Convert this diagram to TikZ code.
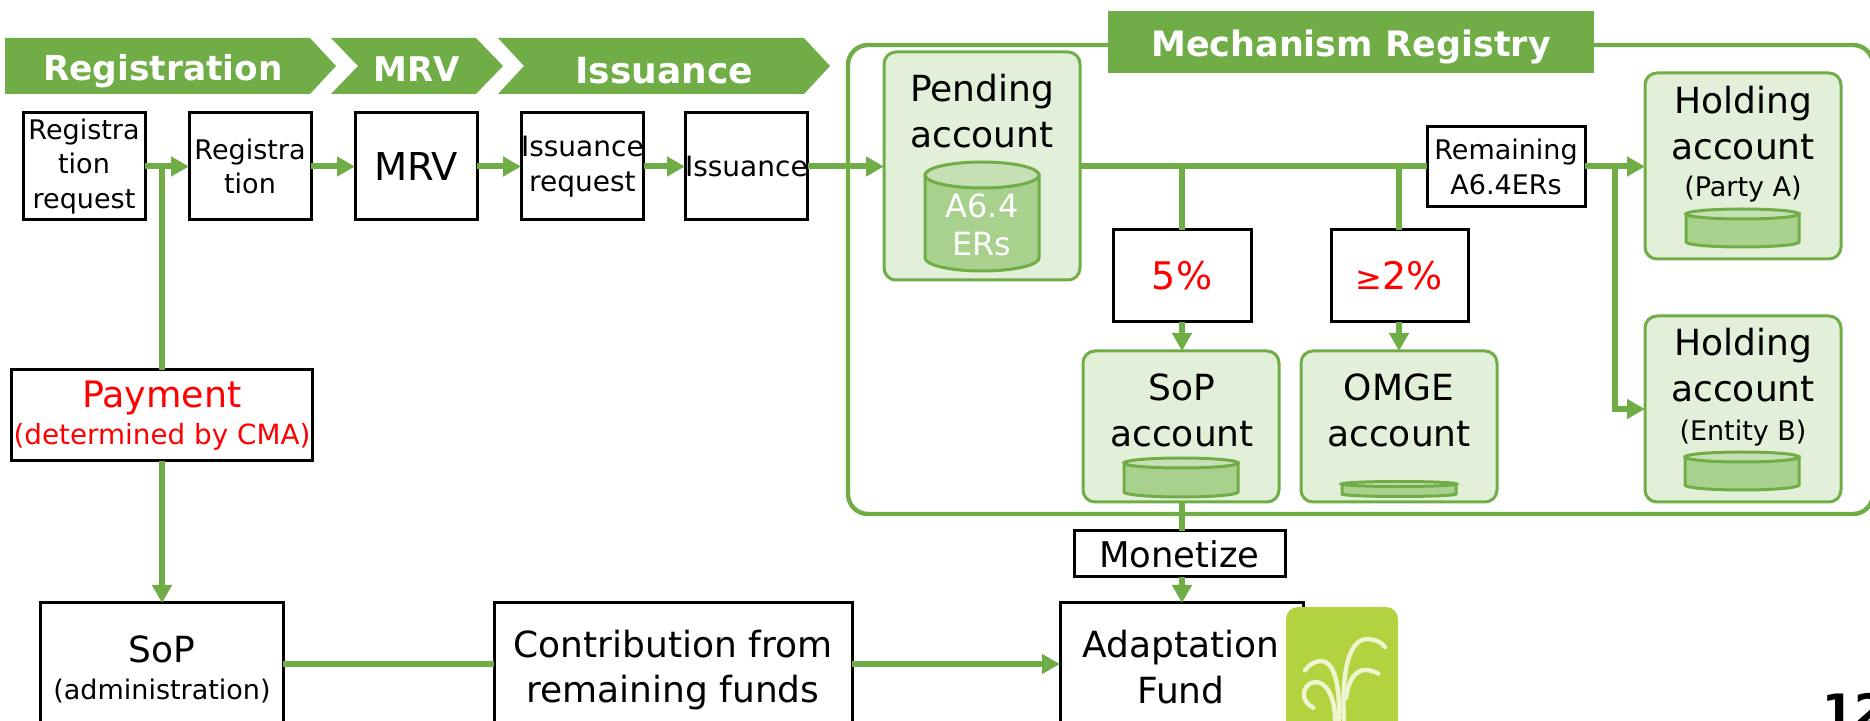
\documentclass[tikz,border=0pt]{standalone}
\usepackage{fontspec}
\setmainfont{DejaVu Sans}
\usetikzlibrary{shapes}
\usetikzlibrary{shapes.geometric}
\usetikzlibrary{arrows.meta}
\usetikzlibrary{positioning}
\definecolor{mgreen}{HTML}{70AD47}
\definecolor{lgreen}{HTML}{E2F0D9}
\definecolor{cgreen}{HTML}{A9D18E}
\definecolor{tgreen}{HTML}{C5E0B4}
\definecolor{logogreen}{HTML}{B3D23F}
\definecolor{logocream}{HTML}{EFF5CF}
\newcommand{\fsz}[1]{\fontsize{#1}{1.27\dimexpr#1pt\relax}\selectfont}
\tikzset{
    every picture/.style={x=0.5pt,y=-0.5pt},
    flow/.style={line width=3pt,draw=mgreen},
    tip/.style={-{Triangle[length=9pt,width=9.5pt]}},
    stepbox/.style={draw=black,line width=1.5pt,fill=white,inner sep=0pt,outer sep=0pt,align=center,anchor=north west},
    acct/.style={draw=mgreen,line width=1.5pt,fill=lgreen,rounded corners=6pt,inner sep=0pt,outer sep=0pt,anchor=north west},
    title/.style={text=white,font=\fsz{#1}\bfseries},
    barrel/.style={draw=mgreen,line width=1.5pt,fill=cgreen},
    spout/.style={draw=logocream,line width=2.2pt,line cap=round},
}
\begin{document}
\begin{tikzpicture}
    \useasboundingbox (0,0) rectangle (1870,721);
    \clip (0,0) rectangle (1870,721);
    % chevrons on top
    \fill[mgreen] (5,38) -- (310,38) -- (336,66) -- (310,94) -- (5,94) -- cycle;
    \fill[mgreen] (331,38) -- (476,38) -- (503,66) -- (476,94) -- (331,94) -- (358,66) -- cycle;
    \fill[mgreen] (498,38) -- (804,38) -- (830,66) -- (804,94) -- (498,94) -- (524,66) -- cycle;
    \node[title=17.2] (regtitle) at (163,71) {Registration};
    \node[title=17] (mrvtitle) at (417,69) {MRV};
    \node[title=18] (isstitle) at (664,71) {Issuance};
    % registry frame
    \draw[draw=mgreen,line width=2.2pt,rounded corners=10pt] (848,45) rectangle (1873,514);
    \fill[mgreen] (1108,11) rectangle (1594,73);
    \node[title=17.5] (registry) at (1351,47) {Mechanism Registry};
    % process boxes
    \node[stepbox,minimum width=61pt,minimum height=53.5pt,font=\fsz{13.5}] (regreq) at (23,113) {Registra\\tion\\request};
    \node[stepbox,minimum width=61pt,minimum height=53.5pt,font=\fsz{13.5}] (reg) at (189,113) {Registra\\tion};
    \node[stepbox,minimum width=61pt,minimum height=53.5pt,font=\fsz{19.2}] (mrv) at (355,113) {MRV};
    \node[stepbox,minimum width=61pt,minimum height=53.5pt,font=\fsz{14}] (issreq) at (521,113) {Issuance\\request};
    \node[stepbox,minimum width=61pt,minimum height=53.5pt,font=\fsz{14}] (iss) at (685,113) {Issuance};
    % accounts
    \node[acct,minimum width=98pt,minimum height=114pt] (pending) at (884,52) {};
    \node[font=\fsz{18},align=center,anchor=north] (pendingtxt) at (982,67) {Pending\\account};
    \node[acct,minimum width=98pt,minimum height=93pt] (holda) at (1645,73) {};
    \node[font=\fsz{18},align=center,anchor=north] (holdatxt) at (1743,79) {Holding\\account};
    \node[font=\fsz{13.5}] (holdalab) at (1743,189) {(Party A)};
    \node[acct,minimum width=98pt,minimum height=93pt] (holdb) at (1645,316) {};
    \node[font=\fsz{18},align=center,anchor=north] (holdbtxt) at (1743,321) {Holding\\account};
    \node[font=\fsz{13.5}] (holdblab) at (1743,433) {(Entity B)};
    \node[acct,minimum width=98pt,minimum height=75.5pt] (sopacct) at (1083,351) {};
    \node[font=\fsz{18},align=center,anchor=north] (sopacctxt) at (1182,367) {SoP\\account};
    \node[acct,minimum width=98pt,minimum height=75.5pt] (omge) at (1301,351) {};
    \node[font=\fsz{18},align=center,anchor=north] (omgetxt) at (1399,367) {OMGE\\account};
    % barrels
    \foreach \xa/\xb/\yt/\yb/\ry in {925/1039/175/258/13,1686/1799/214/242/5,1685/1799/457/485/5,1124/1238/463/492/5,1342/1456/484/494/2.5}{
        \draw[barrel] (\xa,\yt) -- (\xa,\yb) arc[start angle=180,end angle=0,x radius={(\xb-\xa)/2},y radius=\ry]
            -- (\xb,\yt) -- cycle;
        \draw[barrel,fill=tgreen] ({(\xa+\xb)/2},\yt) ellipse[x radius={(\xb-\xa)/2},y radius=\ry];
    }
    \node[text=white,font=\fsz{16}] (pendingtop) at (982,206) {A6.4};
    \node[text=white,font=\fsz{16}] (pendingers) at (982,244) {ERs};
    % share boxes
    \node[stepbox,minimum width=79pt,minimum height=40pt,font=\fsz{13.5}] (remain) at (1427,127) {Remaining\\A6.4ERs};
    \node[stepbox,minimum width=69pt,minimum height=46pt,font=\fsz{19},text=red] (five) at (1113,230) {5\%};
    \node[stepbox,minimum width=68.5pt,minimum height=46pt,font=\fsz{19},text=red] (two) at (1331,230) {{\fsz{16}≥}2\%};
    \node[stepbox,minimum width=105.5pt,minimum height=23pt,font=\fsz{17.7}] (monetize) at (1074,531) {Monetize};
    % lower row
    \node[stepbox,minimum width=150.5pt,minimum height=45.5pt,align=center,text=red] (payment) at (11.5,370) {{\fsz{18.2}Payment}\\[3pt]{\fsz{13.9}(determined by CMA)}};
    \node[stepbox,minimum width=121.5pt,minimum height=70pt] (sop) at (40,603) {};
    \node[font=\fsz{18}] (soptxt) at (162,649) {SoP};
    \node[font=\fsz{13.5}] (sopsub) at (162,691) {(administration)};
    \node[stepbox,minimum width=179pt,minimum height=70pt] (contrib) at (494,603) {};
    \node[font=\fsz{18},align=center] (contribtxt) at (673,670) {Contribution from\\remaining funds};
    \node[stepbox,minimum width=121.5pt,minimum height=70pt] (adapt) at (1060,603) {};
    \node[font=\fsz{18},align=center] (adapttxt) at (1181,667) {Adaptation\\Fund};
    % connectors
    \coordinate (regjoin) at (162,166.5);
    \coordinate (mainA) at (1182,166.5);
    \coordinate (mainB) at (1399,166.5);
    \coordinate (mainC) at (1615,166.5);
    \coordinate (holdbin) at (1615,409);
    \coordinate (fundin) at (1060,664);
    \draw[flow,tip] (regreq.east |- regjoin) -- (reg.west |- regjoin);
    \draw[flow] (regjoin) -- (payment.north -| regjoin);
    \draw[flow,tip] (payment.south -| regjoin) -- (sop.north -| regjoin);
    \draw[flow,tip] (reg.east |- regjoin) -- (mrv.west |- regjoin);
    \draw[flow,tip] (mrv.east |- regjoin) -- (issreq.west |- regjoin);
    \draw[flow,tip] (issreq.east |- regjoin) -- (iss.west |- regjoin);
    \draw[flow,tip] (iss.east |- regjoin) -- (pending.west |- regjoin);
    \draw[flow] (pending.east |- regjoin) -- (remain.west |- regjoin);
    \draw[flow,tip] (remain.east |- regjoin) -- (holda.west |- regjoin);
    \draw[flow] (mainA) -- (five.north -| mainA);
    \draw[flow] (mainB) -- (two.north -| mainB);
    \draw[flow,tip] (five.south -| mainA) -- (sopacct.north -| mainA);
    \draw[flow,tip] (two.south -| mainB) -- (omge.north -| mainB);
    \draw[flow,tip] (mainC) |- (holdb.west |- holdbin);
    \draw[flow] (sopacct.south -| mainA) -- (monetize.north -| mainA);
    \draw[flow,tip] (monetize.south -| mainA) -- (adapt.north -| mainA);
    \draw[flow] (sop.east |- fundin) -- (contrib.west |- fundin);
    \draw[flow,tip] (contrib.east |- fundin) -- (adapt.west |- fundin);
    % fund logo
    \fill[logogreen,rounded corners=6pt] (1286,607) rectangle (1398,740);
    \begin{scope}[shift={(1270,595)},x=0.1667pt,y=-0.1667pt]
        \draw[spout] (222,375) .. controls (215,250) and (230,135) .. (290,132) .. controls (315,132) and (335,142) .. (345,156);
        \draw[spout] (207,375) .. controls (210,260) and (190,195) .. (150,198) .. controls (130,200) and (115,212) .. (105,226);
        \draw[spout] (228,310) .. controls (235,250) and (260,225) .. (285,225) .. controls (300,225) and (315,230) .. (325,236);
        \draw[spout] (195,375) .. controls (195,300) and (165,255) .. (130,262) .. controls (95,270) and (90,320) .. (130,338);
    \end{scope}
    \node[font=\fsz{23}\bfseries,anchor=north west,inner sep=0pt] (pageno) at (1822,693) {12};
\end{tikzpicture}
\end{document}
